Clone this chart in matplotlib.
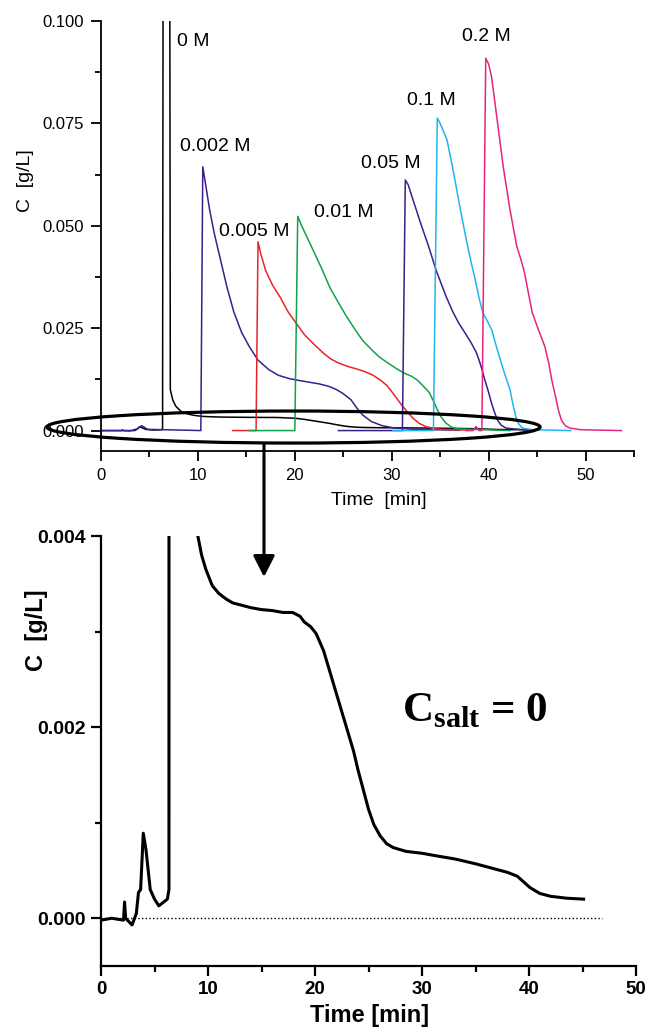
import matplotlib
matplotlib.use('Agg')
import matplotlib.pyplot as plt
from matplotlib.patches import Ellipse, FancyArrowPatch
from matplotlib.ticker import MultipleLocator, FormatStrFormatter

plt.rcParams['font.family'] = 'Liberation Sans'
plt.rcParams['mathtext.fontset'] = 'custom'
plt.rcParams['mathtext.rm'] = 'Liberation Serif'
plt.rcParams['mathtext.bf'] = 'Liberation Serif:bold'

# ---- data ----
# 0 M (black), shown in both panels
t_0M = [0.0, 1.0, 2.1, 2.2, 2.3, 2.9, 3.3, 3.5, 3.7, 3.95, 4.2, 4.6, 5.0, 5.4, 6.2, 6.35,
        6.45, 7.05, 7.15, 7.4, 7.7, 8.2, 8.6, 9.05, 9.4, 9.8, 10.4, 11.0, 11.7, 12.3, 13.0,
        14.0, 15.0, 16.0, 17.0, 17.9, 18.6, 19.0, 19.6, 20.1, 20.8, 21.6, 22.4, 23.2, 23.6,
        24.0, 24.5, 25.0, 25.5, 26.1, 26.7, 27.3, 28.5, 30.0, 31.5, 33.1, 35.0, 37.0, 38.0,
        38.9, 39.5, 40.1, 41.0, 42.0, 43.5, 45.1]
c_0M = [-0.00002, 0.0, -0.00002, 0.00017, 0.0, -0.00007, 0.00005, 0.00027, 0.0003, 0.00089,
        0.00072, 0.0003, 0.0002, 0.00013, 0.0002, 0.0003,
        0.2, 0.2, 0.01, 0.0075, 0.006, 0.0048, 0.0043, 0.0040, 0.0038, 0.00365, 0.00348,
        0.0034, 0.00334, 0.0033, 0.00328, 0.00325, 0.00323, 0.00322, 0.0032, 0.0032,
        0.00316, 0.0031, 0.00305, 0.00298, 0.0028, 0.0025, 0.0022, 0.0019, 0.00175,
        0.00156, 0.00135, 0.00114, 0.00098, 0.00086, 0.00078, 0.00074, 0.0007, 0.00068,
        0.00065, 0.00062, 0.00057, 0.00051, 0.00048, 0.00044, 0.00038, 0.00032, 0.00026,
        0.00023, 0.00021, 0.0002]

t_002 = [0.0, 3.5, 4.2, 4.8, 10.3, 10.5, 10.8, 11.2, 11.7, 12.3, 13.0, 13.7, 14.5, 15.3,
         16.2, 17.3, 18.3, 19.4, 20.5, 21.5, 22.5, 23.5, 24.3, 25.0, 25.8, 26.4, 27.0, 27.9,
         29.0, 30.1, 32.2, 34.3, 37.0]
c_002 = [0.0, 0.0, 0.0012, 0.0003, 0.0, 0.0644, 0.060, 0.054, 0.048, 0.042, 0.035, 0.029,
         0.024, 0.0205, 0.0172, 0.0149, 0.0135, 0.0127, 0.0122, 0.0118, 0.0114, 0.0108,
         0.0100, 0.0090, 0.0075, 0.0055, 0.0038, 0.0022, 0.0012, 0.0007, 0.0003, 0.0002,
         0.0001]

t_005 = [13.6, 16.0, 16.2, 16.5, 17.0, 17.7, 18.5, 19.3, 20.2, 21.0, 22.0, 23.0, 23.7, 24.5,
         25.4, 26.3, 27.1, 28.0, 28.8, 29.5, 30.1, 30.6, 31.1, 31.7, 32.2, 32.8, 33.5, 34.3,
         35.2, 38.0]
c_005 = [0.0, 0.0, 0.0461, 0.043, 0.039, 0.0355, 0.0325, 0.029, 0.026, 0.0234, 0.021,
         0.0188, 0.0175, 0.0165, 0.0157, 0.0151, 0.0145, 0.0136, 0.0124, 0.011, 0.0092,
         0.0076, 0.006, 0.0043, 0.003, 0.0018, 0.001, 0.0005, 0.0003, 0.0001]

t_01 = [15.3, 20.0, 20.3, 20.7, 21.1, 21.8, 22.8, 23.6, 24.5, 25.3, 26.2, 27.0, 27.9, 28.7,
        29.6, 30.5, 31.3, 32.0, 32.6, 33.2, 33.9, 34.3, 34.7, 35.1, 35.6, 36.2, 36.9, 42.2]
c_01 = [0.0, 0.0, 0.0523, 0.050, 0.048, 0.0445, 0.0394, 0.035, 0.0312, 0.028, 0.0247,
        0.022, 0.0198, 0.018, 0.0165, 0.0151, 0.014, 0.0133, 0.0124, 0.011, 0.0092, 0.0072,
        0.0051, 0.0033, 0.0018, 0.0008, 0.0004, 0.0]

t_05 = [24.5, 31.1, 31.4, 31.7, 32.2, 33.0, 33.8, 34.6, 35.6, 36.3, 36.9, 37.6, 38.2, 38.7,
        39.0, 39.3, 39.6, 40.0, 40.3, 40.6, 40.9, 41.3, 41.8, 44.0]
c_05 = [0.0, 0.0, 0.0612, 0.060, 0.0563, 0.0505, 0.045, 0.039, 0.0328, 0.029, 0.0263,
        0.0237, 0.0214, 0.0192, 0.0173, 0.015, 0.0124, 0.0093, 0.0067, 0.0045, 0.0026,
        0.0013, 0.0006, 0.0001]

t_1 = [30.1, 34.3, 34.7, 35.0, 35.7, 36.3, 37.0, 37.7, 38.2, 38.6, 39.0, 39.4, 39.8, 40.3,
       40.8, 41.3, 41.8, 42.2, 42.5, 42.8, 43.1, 43.5, 44.5, 48.5]
c_1 = [0.0, 0.0, 0.0763, 0.075, 0.071, 0.064, 0.055, 0.0465, 0.041, 0.037, 0.0325, 0.0288,
       0.027, 0.0247, 0.0205, 0.0165, 0.0128, 0.010, 0.0065, 0.0034, 0.0016, 0.0006,
       0.0002, 0.0]

t_2 = [37.7, 38.4, 38.7, 39.0, 39.3, 39.7, 40.0, 40.3, 40.9, 41.5, 42.2, 42.9, 43.3, 43.7,
       44.1, 44.5, 45.0, 45.4, 45.8, 46.2, 46.5, 46.9, 47.2, 47.5, 47.9, 48.4, 49.5, 53.7]
c_2 = [0.0, 0.0, 0.001, 0.0, 0.0, 0.0909, 0.0895, 0.0864, 0.0755, 0.0645, 0.054, 0.045,
       0.042, 0.0386, 0.0336, 0.0288, 0.0255, 0.023, 0.0205, 0.0165, 0.0125, 0.0083, 0.005,
       0.0026, 0.0012, 0.0006, 0.0002, 0.0]

salt_labels = ['0 M', '0.002 M', '0.005 M', '0.01 M', '0.05 M', '0.1 M', '0.2 M']
# left edge / vertical centre of each label, in data units
label_pos = [(7.84, 0.0951), (8.15, 0.0693), (12.2, 0.0485), (22.0, 0.0532),
             (26.8, 0.0651), (31.6, 0.0805), (37.2, 0.0961)]

purple = '#3C1E8C'
series = [(t_0M, c_0M, 'black'), (t_002, c_002, purple), (t_005, c_005, '#E8252B'),
          (t_01, c_01, '#0FA24A'), (t_05, c_05, purple), (t_1, c_1, '#22B5EE'),
          (t_2, c_2, '#E6257F')]

fig = plt.figure(figsize=(6.48, 10.30), dpi=100)
ax1 = fig.add_axes([0.1559, 0.5621, 0.8225, 0.4175])
ax2 = fig.add_axes([0.1559, 0.0621, 0.8256, 0.4175])

# ---- top panel ----
for t, c, col in series:
    ax1.plot(t, c, color=col, lw=1.1)
for lab, (x, y) in zip(salt_labels, label_pos):
    ax1.text(x, y, lab, ha='left', va='center', fontsize=14)

ax1.set_xlim(0, 55)
ax1.set_ylim(-0.005, 0.1)
ax1.xaxis.set_major_locator(MultipleLocator(10))
ax1.xaxis.set_minor_locator(MultipleLocator(5))
ax1.yaxis.set_major_locator(MultipleLocator(0.025))
ax1.yaxis.set_minor_locator(MultipleLocator(0.0125))
ax1.yaxis.set_major_formatter(FormatStrFormatter('%.3f'))
for s in ['top', 'right']:
    ax1.spines[s].set_visible(False)
for s in ['left', 'bottom']:
    ax1.spines[s].set_linewidth(1.3)
ax1.tick_params(which='major', direction='out', length=7, width=1.3, labelsize=12, pad=5)
ax1.tick_params(which='minor', direction='out', length=4, width=1.3)
ax1.set_xlabel('Time  [min]', fontsize=14)
ax1.set_ylabel('C  [g/L]', fontsize=14)
ax1.xaxis.set_label_coords(0.5216, -0.114)
ax1.yaxis.set_label_coords(-0.142, 0.628)
ax1.xaxis.label.set_va('center')
ax1.yaxis.label.set_va('center')

# ---- bottom panel ----
ax2.plot(t_0M, c_0M, color='black', lw=2.2)
ax2.hlines(0, 0, 46.8, colors='black', linestyles=':', lw=1.0)
ax2.set_xlim(0, 50)
ax2.set_ylim(-0.0005, 0.004)
ax2.xaxis.set_major_locator(MultipleLocator(10))
ax2.xaxis.set_minor_locator(MultipleLocator(5))
ax2.yaxis.set_major_locator(MultipleLocator(0.002))
ax2.yaxis.set_minor_locator(MultipleLocator(0.001))
ax2.yaxis.set_major_formatter(FormatStrFormatter('%.3f'))
for s in ['top', 'right']:
    ax2.spines[s].set_visible(False)
for s in ['left', 'bottom']:
    ax2.spines[s].set_linewidth(1.6)
ax2.tick_params(which='major', direction='out', length=7, width=1.6, pad=4)
ax2.tick_params(which='minor', direction='out', length=4, width=1.6)
ax2.tick_params(axis='x', labelsize=13.5)
ax2.tick_params(axis='y', labelsize=14)
for lab in ax2.get_xticklabels() + ax2.get_yticklabels():
    lab.set_fontweight('bold')
ax2.set_xlabel('Time [min]', fontsize=17, fontweight='bold')
ax2.set_ylabel('C  [g/L]', fontsize=17, fontweight='bold')
ax2.xaxis.set_label_coords(0.502, -0.116)
ax2.yaxis.set_label_coords(-0.1215, 0.781)
ax2.xaxis.label.set_va('center')
ax2.yaxis.label.set_va('center')

ax2.text(0.699, 0.595, r'C$_{\mathbf{salt}}$ = 0', transform=ax2.transAxes,
         ha='center', va='center', fontsize=31, fontweight='bold',
         family='Liberation Serif')

# ellipse round the baseline of the top panel and the arrow to the zoom
fig.add_artist(Ellipse((0.453, 0.5854), 0.761, 0.0311, transform=fig.transFigure,
                       fill=False, ec='black', lw=2.3))
fig.add_artist(FancyArrowPatch((0.4074, 0.5695), (0.4074, 0.4398),
                               transform=fig.transFigure,
                               arrowstyle='-|>,head_length=0.65,head_width=0.33',
                               mutation_scale=20, lw=2.2, color='black',
                               shrinkA=0, shrinkB=0))

fig.savefig('out.png', dpi=100)
